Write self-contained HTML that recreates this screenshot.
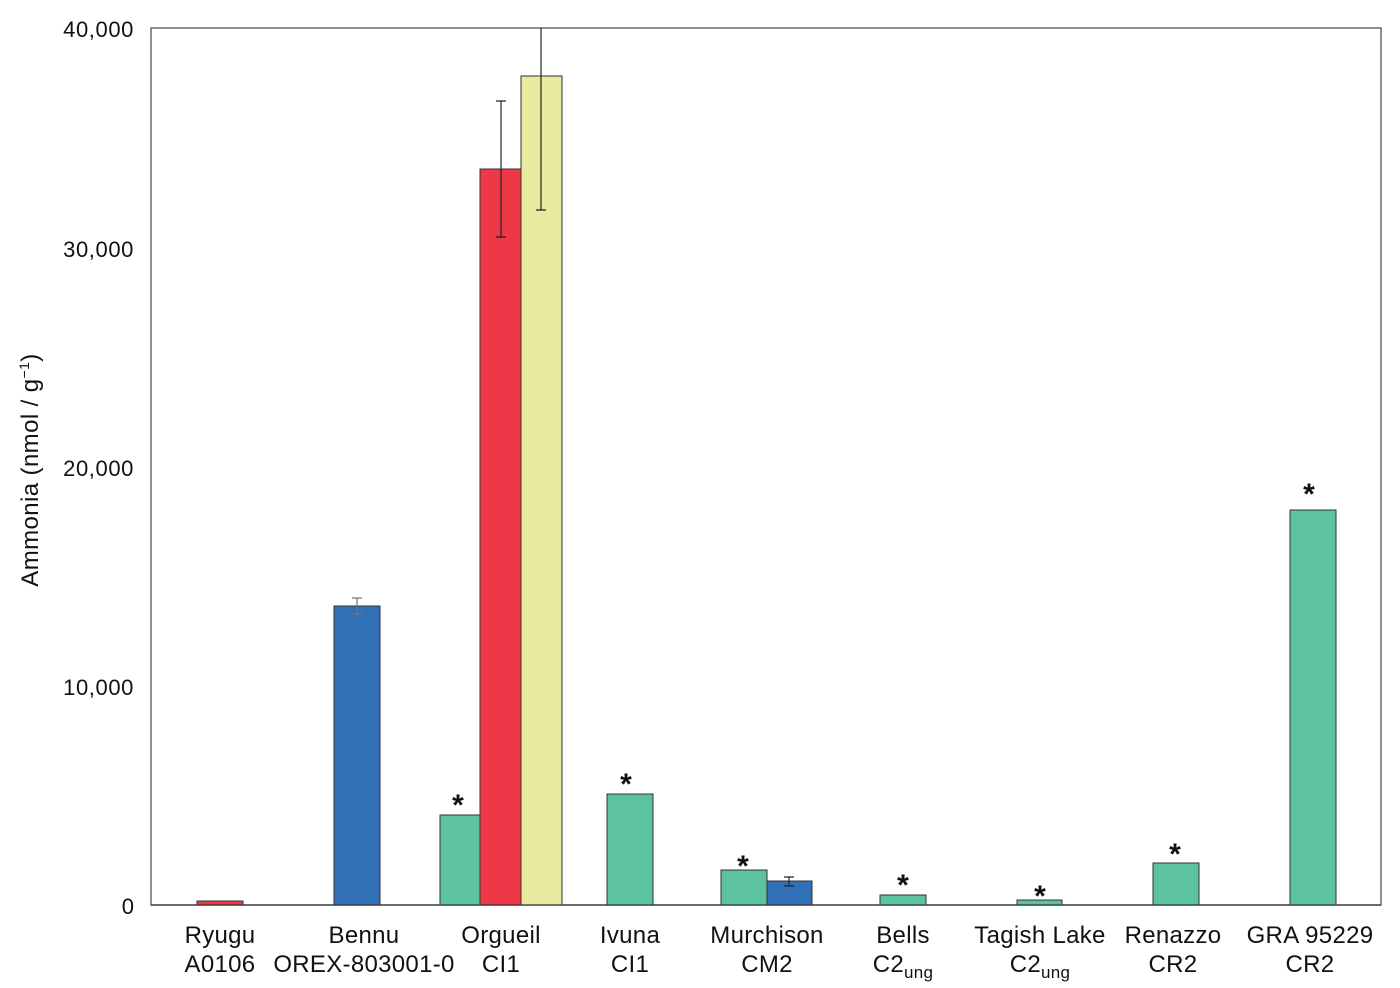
<!DOCTYPE html>
<html><head><meta charset="utf-8"><style>body{margin:0;background:#fff}svg{display:block;font-family:"Liberation Sans",sans-serif}</style></head><body>
<svg width="1400" height="988" viewBox="0 0 1400 988" xmlns="http://www.w3.org/2000/svg">
<rect x="151" y="28" width="1230" height="877" fill="none" stroke="#555" stroke-width="1.3"/>
<g font-size="22" fill="#111" text-anchor="end">
<text x="134" y="37" letter-spacing="0.6">40,000</text><text x="134" y="257" letter-spacing="0.6">30,000</text><text x="134" y="476" letter-spacing="0.6">20,000</text><text x="134" y="695" letter-spacing="0.6">10,000</text><text x="134" y="914">0</text>
</g>
<text transform="translate(38,470) rotate(-90)" font-size="24" text-anchor="middle" fill="#111" letter-spacing="0.4">Ammonia (nmol / g<tspan font-size="14" dy="-9">−1</tspan><tspan dy="9">)</tspan></text>
<g stroke="#333" stroke-width="1">
<rect x="197" y="901" width="46" height="4" fill="#ee3847"/>
<rect x="334" y="606" width="46" height="299" fill="#3070b5"/>
<rect x="440" y="815" width="40" height="90" fill="#5cc29f"/>
<rect x="480" y="169" width="41" height="736" fill="#ee3847"/>
<rect x="521" y="76" width="41" height="829" fill="#e9e9a0"/>
<rect x="607" y="794" width="46" height="111" fill="#5cc29f"/>
<rect x="721" y="870" width="46" height="35" fill="#5cc29f"/>
<rect x="767" y="881" width="45" height="24" fill="#3070b5"/>
<rect x="880" y="895" width="46" height="10" fill="#5cc29f"/>
<rect x="1017" y="900" width="45" height="5" fill="#5cc29f"/>
<rect x="1153" y="863" width="46" height="42" fill="#5cc29f"/>
<rect x="1290" y="510" width="46" height="395" fill="#5cc29f"/>
</g>
<g stroke="#222" stroke-width="1.2" fill="none">
<path d="M357 598V614M352 598H362M352 614H362" stroke="#777"/>
<path d="M501 101V237M496 101H506M496 237H506"/>
<path d="M541 28V210M536 210H546"/>
<path d="M789 877V886M784 877H794M784 886H794"/>
</g>
<line x1="151" y1="905" x2="1381" y2="905" stroke="#333" stroke-width="1.3"/>
<g font-size="30" font-weight="bold" text-anchor="middle" fill="#111">
<text x="458" y="815">*</text><text x="626" y="794">*</text><text x="743" y="876">*</text><text x="903" y="895">*</text><text x="1040" y="906">*</text><text x="1175" y="864">*</text><text x="1309" y="504">*</text>
</g>
<g font-size="24" text-anchor="middle" fill="#111" letter-spacing="0.3">
<text x="220" y="943">Ryugu</text><text x="220" y="972">A0106</text>
<text x="364" y="943">Bennu</text><text x="364" y="972">OREX-803001-0</text>
<text x="501" y="943">Orgueil</text><text x="501" y="972">CI1</text>
<text x="630" y="943">Ivuna</text><text x="630" y="972">CI1</text>
<text x="767" y="943">Murchison</text><text x="767" y="972">CM2</text>
<text x="903" y="943">Bells</text><text x="903" y="972">C2<tspan font-size="17" dy="6">ung</tspan></text>
<text x="1040" y="943">Tagish Lake</text><text x="1040" y="972">C2<tspan font-size="17" dy="6">ung</tspan></text>
<text x="1173" y="943">Renazzo</text><text x="1173" y="972">CR2</text>
<text x="1310" y="943">GRA 95229</text><text x="1310" y="972">CR2</text>
</g>
</svg>
</body></html>
